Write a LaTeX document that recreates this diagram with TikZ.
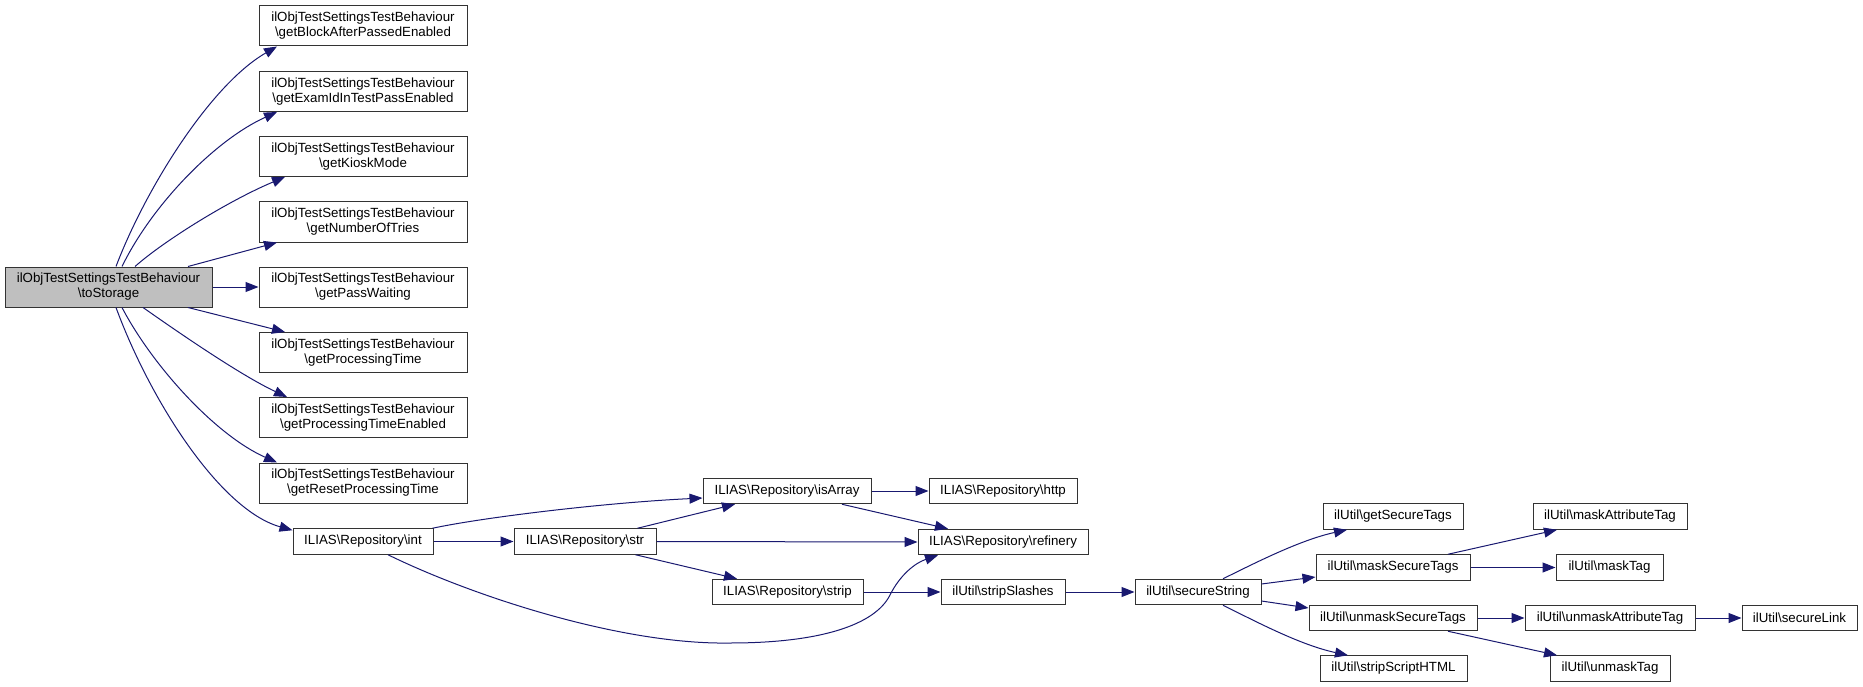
\documentclass[tikz,border=0pt]{standalone}
\usepackage{fontspec}
\setmainfont{Liberation Sans}
\usetikzlibrary{arrows.meta}
\definecolor{edgecol}{HTML}{191970}
\definecolor{rootfill}{HTML}{BFBFBF}
\tikzset{
  box/.style={draw=black!80, line width=1pt, fill=white, inner sep=0pt, align=center,
    font=\fontsize{13.3}{15}\selectfont},
  rootbox/.style={box, fill=rootfill},
  edge/.style={draw=edgecol, line width=1pt, -{Triangle[length=13pt,width=10pt]}},
}
\newcommand{\bs}{\textbackslash{}}
\begin{document}
\begin{tikzpicture}[x=1pt,y=-1pt]
\useasboundingbox (0,0) rectangle (1863,687);
% nodes
\node[rootbox, minimum width=207pt, minimum height=40pt] (root) at (108.5,287) {ilObjTestSettingsTestBehaviour\\\bs toStorage};
\node[box, minimum width=208pt, minimum height=40pt] (block) at (363,26) {ilObjTestSettingsTestBehaviour\\\bs getBlockAfterPassedEnabled};
\node[box, minimum width=208pt, minimum height=40pt] (exam) at (363,91.5) {ilObjTestSettingsTestBehaviour\\\bs getExamIdInTestPassEnabled};
\node[box, minimum width=208pt, minimum height=40pt] (kiosk) at (363,156.5) {ilObjTestSettingsTestBehaviour\\\bs getKioskMode};
\node[box, minimum width=208pt, minimum height=40pt] (tries) at (363,222) {ilObjTestSettingsTestBehaviour\\\bs getNumberOfTries};
\node[box, minimum width=208pt, minimum height=40pt] (passw) at (363,287) {ilObjTestSettingsTestBehaviour\\\bs getPassWaiting};
\node[box, minimum width=208pt, minimum height=40pt] (proct) at (363,352.5) {ilObjTestSettingsTestBehaviour\\\bs getProcessingTime};
\node[box, minimum width=208pt, minimum height=40pt] (procte) at (363,417.5) {ilObjTestSettingsTestBehaviour\\\bs getProcessingTimeEnabled};
\node[box, minimum width=208pt, minimum height=40pt] (reset) at (363,483) {ilObjTestSettingsTestBehaviour\\\bs getResetProcessingTime};
\node[box, minimum width=140pt, minimum height=25.5pt] (int) at (363,541.5) {ILIAS\bs Repository\bs int};
\node[box, minimum width=142pt, minimum height=25.5pt] (str) at (585,541.5) {ILIAS\bs Repository\bs str};
\node[box, minimum width=168pt, minimum height=25.5pt] (isarray) at (787,491) {ILIAS\bs Repository\bs isArray};
\node[box, minimum width=148pt, minimum height=25.5pt] (http) at (1003,491) {ILIAS\bs Repository\bs http};
\node[box, minimum width=170pt, minimum height=25.5pt] (refinery) at (1003,542) {ILIAS\bs Repository\bs refinery};
\node[box, minimum width=151pt, minimum height=25.5pt] (strip) at (787.5,592) {ILIAS\bs Repository\bs strip};
\node[box, minimum width=124pt, minimum height=25.5pt] (slashes) at (1003,592) {ilUtil\bs stripSlashes};
\node[box, minimum width=126pt, minimum height=25.5pt] (secstr) at (1198,592) {ilUtil\bs secureString};
\node[box, minimum width=140pt, minimum height=25.5pt] (getsec) at (1393,516.5) {ilUtil\bs getSecureTags};
\node[box, minimum width=154pt, minimum height=25.5pt] (masksec) at (1393,567.5) {ilUtil\bs maskSecureTags};
\node[box, minimum width=168pt, minimum height=25.5pt] (unmasksec) at (1393,618) {ilUtil\bs unmaskSecureTags};
\node[box, minimum width=147pt, minimum height=25.5pt] (stripscript) at (1393.5,668.5) {ilUtil\bs stripScriptHTML};
\node[box, minimum width=154pt, minimum height=25.5pt] (maskattr) at (1610,516.5) {ilUtil\bs maskAttributeTag};
\node[box, minimum width=107pt, minimum height=25.5pt] (masktag) at (1609.5,567.5) {ilUtil\bs maskTag};
\node[box, minimum width=170pt, minimum height=25.5pt] (unmaskattr) at (1610,618) {ilUtil\bs unmaskAttributeTag};
\node[box, minimum width=115pt, minimum height=25.5pt] (securelink) at (1799.5,618) {ilUtil\bs secureLink};
\node[box, minimum width=120pt, minimum height=25.5pt] (unmasktag) at (1610,668.5) {ilUtil\bs unmaskTag};
% edges from root
\draw[edge] ([xshift=7.5pt]root.north) .. controls (145,190) and (210,85) .. ([xshift=-86pt]block.south);
\draw[edge] ([xshift=13.5pt]root.north) .. controls (152,205) and (215,140) .. ([xshift=-86pt]exam.south);
\draw[edge] ([xshift=26.5pt]root.north) .. controls (165,240) and (230,200) .. ([xshift=-78pt]kiosk.south);
\draw[edge] ([xshift=79.5pt]root.north) -- ([xshift=-86pt]tries.south);
\draw[edge] (root.east) -- (passw.west);
\draw[edge] ([xshift=79.5pt]root.south) -- ([xshift=-78pt]proct.north);
\draw[edge] ([xshift=34.5pt]root.south) .. controls (175,330) and (240,375) .. ([xshift=-76pt]procte.north);
\draw[edge] ([xshift=13.5pt]root.south) .. controls (152,365) and (215,435) .. ([xshift=-86pt]reset.north);
\draw[edge] ([xshift=7.5pt]root.south) .. controls (150,400) and (220,510) .. ([yshift=-2pt]int.north west);
% ILIAS repository
\draw[edge] ([xshift=-1pt]int.north east) .. controls (480,518) and (600,503) .. ([yshift=-7pt]isarray.west);
\draw[edge] (int.east) -- (str.west);
\draw[edge] ([xshift=25pt]int.south) .. controls (470,595) and (620,645) .. (730,643)
   .. controls (820,643) and (875,625) .. (890,595)
   .. controls (900,575) and (915,563) .. ([xshift=-65pt]refinery.south);
\draw[edge] ([xshift=-19pt]str.north east) -- ([xshift=-52pt]isarray.south);
\draw[edge] (str.east) -- (refinery.west);
\draw[edge] ([xshift=-21pt]str.south east) -- ([xshift=-50.5pt]strip.north);
\draw[edge] (isarray.east) -- (http.west);
\draw[edge] ([xshift=55pt]isarray.south) -- ([xshift=-55pt]refinery.north);
\draw[edge] (strip.east) -- (slashes.west);
\draw[edge] (slashes.east) -- (secstr.west);
% ilUtil
\draw[edge] ([xshift=25pt]secstr.north) .. controls (1255,563) and (1300,540) .. ([xshift=-46pt]getsec.south);
\draw[edge] ([yshift=8pt]secstr.east) -- ([yshift=-9.5pt]masksec.west);
\draw[edge] ([yshift=-9pt]secstr.east) -- ([yshift=10pt]unmasksec.west);
\draw[edge] ([xshift=25pt]secstr.south) .. controls (1255,621) and (1300,645) .. ([xshift=-45.5pt]stripscript.north);
\draw[edge] ([xshift=55pt]masksec.north) -- ([xshift=-53pt]maskattr.south);
\draw[edge] (masksec.east) -- (masktag.west);
\draw[edge] (unmasksec.east) -- (unmaskattr.west);
\draw[edge] ([xshift=55pt]unmasksec.south) -- ([xshift=-53pt]unmasktag.north);
\draw[edge] (unmaskattr.east) -- (securelink.west);
\end{tikzpicture}
\end{document}
